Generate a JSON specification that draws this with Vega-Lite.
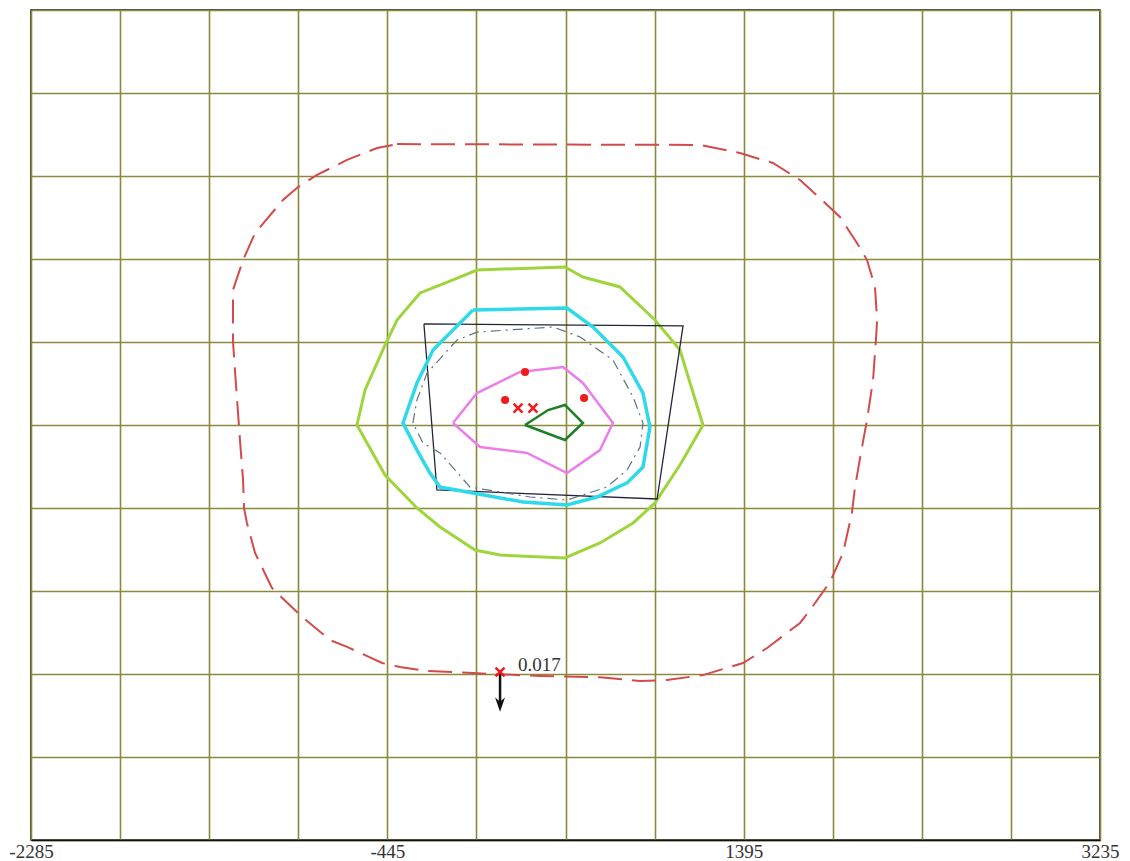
{
  "$schema": "https://vega.github.io/schema/vega-lite/v6.json",
  "width": 1069,
  "height": 830,
  "autosize": "none",
  "padding": {"left": 31, "top": 10, "right": 30, "bottom": 21},
  "background": "white",
  "config": {
    "view": {"stroke": "#111", "strokeWidth": 1.5},
    "axis": {"gridColor": "#8a8a3c", "gridWidth": 1.6, "gridOpacity": 1}
  },
  "datasets": {
    "contours": [
      {"c":"red","o":1,"x":-395,"y":2032},{"c":"red","o":2,"x":1170,"y":2027},{"c":"red","o":3,"x":1376,"y":1982},{"c":"red","o":4,"x":1546,"y":1927},{"c":"red","o":5,"x":1686,"y":1833},{"c":"red","o":6,"x":1800,"y":1722},{"c":"red","o":7,"x":1892,"y":1628},{"c":"red","o":8,"x":1980,"y":1484},{"c":"red","o":9,"x":2032,"y":1389},{"c":"red","o":10,"x":2073,"y":1240},{"c":"red","o":11,"x":2084,"y":1057},{"c":"red","o":12,"x":2078,"y":946},{"c":"red","o":13,"x":2063,"y":724},{"c":"red","o":14,"x":2032,"y":503},{"c":"red","o":15,"x":2006,"y":353},{"c":"red","o":16,"x":1970,"y":131},{"c":"red","o":17,"x":1954,"y":-13},{"c":"red","o":18,"x":1908,"y":-234},{"c":"red","o":19,"x":1841,"y":-395},{"c":"red","o":20,"x":1738,"y":-550},{"c":"red","o":21,"x":1686,"y":-622},{"c":"red","o":22,"x":1516,"y":-761},{"c":"red","o":23,"x":1392,"y":-844},{"c":"red","o":24,"x":1185,"y":-911},{"c":"red","o":25,"x":999,"y":-938},{"c":"red","o":26,"x":860,"y":-944},{"c":"red","o":27,"x":653,"y":-923},{"c":"red","o":28,"x":343,"y":-916},{"c":"red","o":29,"x":-3,"y":-900},{"c":"red","o":30,"x":-240,"y":-888},{"c":"red","o":31,"x":-380,"y":-866},{"c":"red","o":32,"x":-472,"y":-844},{"c":"red","o":33,"x":-653,"y":-755},{"c":"red","o":34,"x":-741,"y":-717},{"c":"red","o":35,"x":-896,"y":-578},{"c":"red","o":36,"x":-1041,"y":-428},{"c":"red","o":37,"x":-1128,"y":-234},{"c":"red","o":38,"x":-1170,"y":-68},{"c":"red","o":39,"x":-1185,"y":15},{"c":"red","o":40,"x":-1190,"y":170},{"c":"red","o":41,"x":-1206,"y":392},{"c":"red","o":42,"x":-1216,"y":541},{"c":"red","o":43,"x":-1232,"y":780},{"c":"red","o":44,"x":-1242,"y":940},{"c":"red","o":45,"x":-1242,"y":1223},{"c":"red","o":46,"x":-1190,"y":1389},{"c":"red","o":47,"x":-1128,"y":1539},{"c":"red","o":48,"x":-984,"y":1722},{"c":"red","o":49,"x":-906,"y":1794},{"c":"red","o":50,"x":-808,"y":1861},{"c":"red","o":51,"x":-653,"y":1944},{"c":"red","o":52,"x":-498,"y":2010},{"c":"red","o":53,"x":-395,"y":2032},
      {"c":"yg","o":1,"x":-602,"y":475},{"c":"yg","o":2,"x":-560,"y":669},{"c":"yg","o":3,"x":-457,"y":918},{"c":"yg","o":4,"x":-395,"y":1057},{"c":"yg","o":5,"x":-276,"y":1207},{"c":"yg","o":6,"x":-106,"y":1279},{"c":"yg","o":7,"x":18,"y":1334},{"c":"yg","o":8,"x":472,"y":1351},{"c":"yg","o":9,"x":565,"y":1295},{"c":"yg","o":10,"x":756,"y":1240},{"c":"yg","o":11,"x":937,"y":1057},{"c":"yg","o":12,"x":1066,"y":891},{"c":"yg","o":13,"x":1185,"y":475},{"c":"yg","o":14,"x":1066,"y":253},{"c":"yg","o":15,"x":937,"y":43},{"c":"yg","o":16,"x":824,"y":-68},{"c":"yg","o":17,"x":653,"y":-179},{"c":"yg","o":18,"x":472,"y":-262},{"c":"yg","o":19,"x":137,"y":-246},{"c":"yg","o":20,"x":8,"y":-218},{"c":"yg","o":21,"x":-173,"y":-90},{"c":"yg","o":22,"x":-292,"y":15},{"c":"yg","o":23,"x":-457,"y":198},{"c":"yg","o":24,"x":-602,"y":475},
      {"c":"cy","o":1,"x":-3,"y":1112},{"c":"cy","o":2,"x":483,"y":1123},{"c":"cy","o":3,"x":617,"y":1018},{"c":"cy","o":4,"x":772,"y":852},{"c":"cy","o":5,"x":875,"y":652},{"c":"cy","o":6,"x":911,"y":464},{"c":"cy","o":7,"x":875,"y":242},{"c":"cy","o":8,"x":793,"y":154},{"c":"cy","o":9,"x":638,"y":76},{"c":"cy","o":10,"x":483,"y":32},{"c":"cy","o":11,"x":256,"y":48},{"c":"cy","o":12,"x":-3,"y":98},{"c":"cy","o":13,"x":-173,"y":131},{"c":"cy","o":14,"x":-225,"y":209},{"c":"cy","o":15,"x":-292,"y":336},{"c":"cy","o":16,"x":-364,"y":486},{"c":"cy","o":17,"x":-292,"y":708},{"c":"cy","o":18,"x":-209,"y":891},{"c":"cy","o":19,"x":-54,"y":1057},{"c":"cy","o":20,"x":-3,"y":1112},
      {"c":"bk","o":1,"x":-256,"y":1035},{"c":"bk","o":2,"x":1082,"y":1024},{"c":"bk","o":3,"x":948,"y":65},{"c":"bk","o":4,"x":-189,"y":115},{"c":"bk","o":5,"x":-256,"y":1035},
      {"c":"dd","o":1,"x":-313,"y":486},{"c":"dd","o":2,"x":-292,"y":614},{"c":"dd","o":3,"x":-240,"y":763},{"c":"dd","o":4,"x":-85,"y":946},{"c":"dd","o":5,"x":18,"y":990},{"c":"dd","o":6,"x":411,"y":1018},{"c":"dd","o":7,"x":550,"y":963},{"c":"dd","o":8,"x":720,"y":835},{"c":"dd","o":9,"x":824,"y":630},{"c":"dd","o":10,"x":875,"y":486},{"c":"dd","o":11,"x":860,"y":353},{"c":"dd","o":12,"x":793,"y":226},{"c":"dd","o":13,"x":689,"y":131},{"c":"dd","o":14,"x":483,"y":59},{"c":"dd","o":15,"x":292,"y":76},{"c":"dd","o":16,"x":-18,"y":131},{"c":"dd","o":17,"x":-173,"y":320},{"c":"dd","o":18,"x":-261,"y":375},{"c":"dd","o":19,"x":-313,"y":486},
      {"c":"pk","o":1,"x":-106,"y":486},{"c":"pk","o":2,"x":18,"y":652},{"c":"pk","o":3,"x":240,"y":769},{"c":"pk","o":4,"x":462,"y":796},{"c":"pk","o":5,"x":565,"y":708},{"c":"pk","o":6,"x":720,"y":486},{"c":"pk","o":7,"x":653,"y":336},{"c":"pk","o":8,"x":483,"y":209},{"c":"pk","o":9,"x":276,"y":320},{"c":"pk","o":10,"x":34,"y":353},{"c":"pk","o":11,"x":-106,"y":486},
      {"c":"dg","o":1,"x":266,"y":475},{"c":"dg","o":2,"x":385,"y":558},{"c":"dg","o":3,"x":472,"y":586},{"c":"dg","o":4,"x":565,"y":486},{"c":"dg","o":5,"x":472,"y":392},{"c":"dg","o":6,"x":266,"y":475}
    ],
    "dots": [{"x":266,"y":769},{"x":163,"y":614},{"x":571,"y":625}],
    "crosses": [{"x":230,"y":569},{"x":307,"y":569},{"x":137,"y":-894}],
    "arrow": [{"x":137,"y":-894,"y2":-1085}],
    "arrowhead": [{"x":137,"y":-1075}],
    "label": [{"x":230,"y":-855,"t":"0.017"}]
  },
  "layer": [
    {
      "data": {"name": "contours"},
      "transform": [{"filter": "datum.c === 'red'"}],
      "mark": {"type": "line", "stroke": "#d24b4b", "strokeWidth": 2, "strokeDash": [24, 10]},
      "encoding": {
        "x": {"field": "x", "type": "quantitative", "scale": {"domain": [-2285, 3235], "nice": false, "zero": false},
          "axis": {"title": null, "values": [-2285,-1825,-1365,-905,-445,15,475,935,1395,1855,2315,2775,3235],
            "labelExpr": "indexof([-2285,-445,1395,3235], datum.value) >= 0 ? toString(datum.value) : ''",
            "grid": true, "ticks": false, "domainColor": "#111", "domainWidth": 1.5, "labelFlush": false, "labelOverlap": false,
            "labelFont": "Liberation Serif", "labelFontSize": 19, "labelColor": "#333", "labelPadding": 2}},
        "y": {"field": "y", "type": "quantitative", "scale": {"domain": [-1825, 2775], "nice": false, "zero": false},
          "axis": {"title": null, "values": [-1825,-1365,-905,-445,15,475,935,1395,1855,2315,2775], "grid": true, "labels": false, "ticks": false, "domain": false}},
        "order": {"field": "o", "type": "quantitative"}
      }
    },
    {
      "data": {"name": "contours"},
      "transform": [{"filter": "datum.c === 'yg'"}],
      "mark": {"type": "line", "stroke": "#9fd53c", "strokeWidth": 3},
      "encoding": {"x": {"field": "x", "type": "quantitative"}, "y": {"field": "y", "type": "quantitative"}, "order": {"field": "o", "type": "quantitative"}}
    },
    {
      "data": {"name": "contours"},
      "transform": [{"filter": "datum.c === 'bk'"}],
      "mark": {"type": "line", "stroke": "#22263a", "strokeWidth": 1.3},
      "encoding": {"x": {"field": "x", "type": "quantitative"}, "y": {"field": "y", "type": "quantitative"}, "order": {"field": "o", "type": "quantitative"}}
    },
    {
      "data": {"name": "contours"},
      "transform": [{"filter": "datum.c === 'cy'"}],
      "mark": {"type": "line", "stroke": "#30d9ea", "strokeWidth": 3.5},
      "encoding": {"x": {"field": "x", "type": "quantitative"}, "y": {"field": "y", "type": "quantitative"}, "order": {"field": "o", "type": "quantitative"}}
    },
    {
      "data": {"name": "contours"},
      "transform": [{"filter": "datum.c === 'dd'"}],
      "mark": {"type": "line", "stroke": "#5f7285", "strokeWidth": 1.2, "strokeDash": [10, 5, 2, 5]},
      "encoding": {"x": {"field": "x", "type": "quantitative"}, "y": {"field": "y", "type": "quantitative"}, "order": {"field": "o", "type": "quantitative"}}
    },
    {
      "data": {"name": "contours"},
      "transform": [{"filter": "datum.c === 'pk'"}],
      "mark": {"type": "line", "stroke": "#ea7fea", "strokeWidth": 2.5},
      "encoding": {"x": {"field": "x", "type": "quantitative"}, "y": {"field": "y", "type": "quantitative"}, "order": {"field": "o", "type": "quantitative"}}
    },
    {
      "data": {"name": "contours"},
      "transform": [{"filter": "datum.c === 'dg'"}],
      "mark": {"type": "line", "stroke": "#1f7f24", "strokeWidth": 2.5},
      "encoding": {"x": {"field": "x", "type": "quantitative"}, "y": {"field": "y", "type": "quantitative"}, "order": {"field": "o", "type": "quantitative"}}
    },
    {
      "data": {"name": "arrow"},
      "mark": {"type": "rule", "stroke": "#111", "strokeWidth": 2.5},
      "encoding": {"x": {"field": "x", "type": "quantitative"}, "y": {"field": "y", "type": "quantitative"}, "y2": {"field": "y2"}}
    },
    {
      "data": {"name": "arrowhead"},
      "mark": {"type": "point", "shape": "M-0.7,-1L0,1L0.7,-1L0,-0.4Z", "filled": true, "color": "#111", "size": 200, "opacity": 1},
      "encoding": {"x": {"field": "x", "type": "quantitative"}, "y": {"field": "y", "type": "quantitative"}}
    },
    {
      "data": {"name": "dots"},
      "mark": {"type": "point", "shape": "circle", "filled": true, "color": "#ee1c1c", "size": 65, "opacity": 1},
      "encoding": {"x": {"field": "x", "type": "quantitative"}, "y": {"field": "y", "type": "quantitative"}}
    },
    {
      "data": {"name": "crosses"},
      "mark": {"type": "point", "shape": "M-1,-1L1,1M1,-1L-1,1", "filled": false, "stroke": "#ee1c1c", "strokeWidth": 2.5, "size": 80, "opacity": 1},
      "encoding": {"x": {"field": "x", "type": "quantitative"}, "y": {"field": "y", "type": "quantitative"}}
    },
    {
      "data": {"name": "label"},
      "mark": {"type": "text", "align": "left", "baseline": "middle", "font": "Liberation Serif", "fontSize": 19, "color": "#333"},
      "encoding": {"x": {"field": "x", "type": "quantitative"}, "y": {"field": "y", "type": "quantitative"}, "text": {"field": "t"}}
    }
  ]
}
